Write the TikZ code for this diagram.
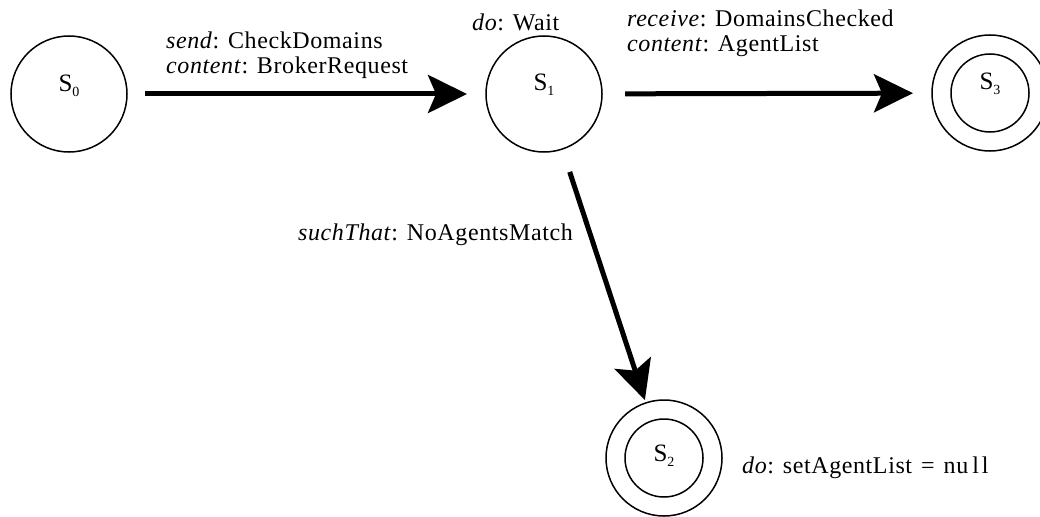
\documentclass[tikz,border=0pt]{standalone}
\usepackage{fontspec}
\setmainfont{Liberation Serif}[LetterSpace=2.5]
\usetikzlibrary{arrows.meta}

% state label subscript
\newcommand\stsub[1]{\raisebox{-5pt}{\fontsize{14}{14}\selectfont #1}}

\begin{document}
\begin{tikzpicture}[x=1pt,y=-1pt,
  state/.style={circle,draw,line width=1.5pt,minimum size=116pt,inner sep=0pt,outer sep=0pt},
  inner/.style={line width=1.5pt},
  statelab/.style={anchor=base,inner sep=0pt,font=\fontsize{25}{25}\selectfont},
  lbl/.style={anchor=base west,inner sep=0pt,font=\fontsize{24}{24}\selectfont},
  trans/.style={line width=5pt,-{Stealth[length=39pt,width=38pt,inset=8pt]}}]
\clip (0,0) rectangle (1040,516);

% states
\node[state] (s0) at (69,94) {};
\node[state] (s1) at (544,94) {};
\node[state] (s3) at (990,93) {};
\node[state] (s2) at (664,458) {};
\draw[inner] (s3.center) circle[radius=39];
\draw[inner] (s2.center) circle[radius=39];

\node[statelab] (l0) at ([yshift=2pt]s0.center) {S\stsub{0}};
\node[statelab] (l1) at ([yshift=3pt]s1.center) {S\stsub{1}};
\node[statelab] (l3) at ([yshift=3pt]s3.center) {S\stsub{3}};
\node[statelab] (l2) at ([yshift=-3pt]s2.center) {S\stsub{2}};

% transitions
\draw[trans,shorten <=18pt,shorten >=19pt] (s0) -- (s1);
\draw[trans,shorten <=23pt,shorten >=19pt] (s1) -- (s3);
\draw[trans,shorten <=24pt,shorten >=3pt] (s1) -- (s2);

% transition and state annotations
\node[lbl] (t01a) at (166,49) {\textit{send}: CheckDomains};
\node[lbl] (t01b) at (166,74) {\textit{content}: BrokerRequest};
\node[lbl] (d1) at (472,31) {\textit{do}: Wait};
\node[lbl] (t13a) at (627,27) {\textit{receive}: DomainsChecked};
\node[lbl] (t13b) at (627,52) {\textit{content}: AgentList};
\node[lbl] (t12) at (298,240) {\textit{suchThat}: NoAgentsMatch};
\node[lbl] (d2) at (742,473) {\textit{do}: setAgentList\hskip9pt=\hskip9pt nu\kern4pt l\kern3pt l};
\end{tikzpicture}
\end{document}
